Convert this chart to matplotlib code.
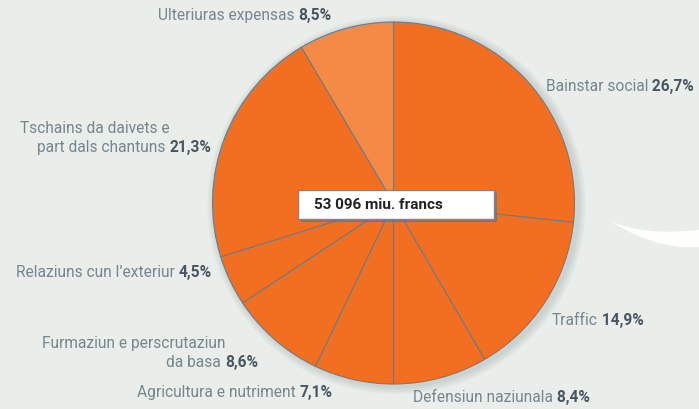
import matplotlib
matplotlib.use("Agg")
import matplotlib.pyplot as plt
from matplotlib.patches import Rectangle, Circle, PathPatch
from matplotlib.path import Path

FONT = "Roboto"

categories = ["Bainstar social", "Traffic", "Defensiun naziunala",
              "Agricultura e nutriment", "Furmaziun e perscrutaziun\nda basa",
              "Relaziuns cun l\u2019exteriur", "Tschains da daivets e\npart dals chantuns",
              "Ulteriuras expensas"]
values = [26.7, 14.9, 8.4, 7.1, 8.6, 4.5, 21.3, 8.5]
pct_labels = ["26,7%", "14,9%", "8,4%", "7,1%", "8,6%", "4,5%", "21,3%", "8,5%"]
total_label = "53 096 miu. francs"

W, H = 699, 409
BG = "#e9eeea"
ORANGE = "#f26f21"
LIGHT = "#f58a47"
EDGE = "#6d7c86"
GRAY = "#76858e"
DARK = "#47565f"

fig = plt.figure(figsize=(W / 100, H / 100), dpi=100)
fig.patch.set_facecolor(BG)
ax = fig.add_axes([0, 0, 1, 1])

def py(y):
    return H - y

cx, cy, r = 393.5, py(203), 181

# white swoosh (decoration)
verts = [(612, py(222)), (650, py(236)), (680, py(231)), (699, py(230)),
         (699, py(247)), (670, py(249)), (640, py(240)), (612, py(222))]
codes = [Path.MOVETO, Path.CURVE4, Path.CURVE4, Path.CURVE4,
         Path.LINETO, Path.CURVE4, Path.CURVE4, Path.CURVE4]
ax.add_patch(PathPatch(Path(verts, codes), facecolor="white", edgecolor="none", zorder=1))

# soft shadow
for i in range(4):
    ax.add_patch(Circle((cx + 3, cy - 2), r + 2 + i * 2, facecolor="#56636b",
                        alpha=0.05, edgecolor="none", zorder=1))

colors = [ORANGE] * 7 + [LIGHT]
ax.pie(values, colors=colors, startangle=90, counterclock=False,
       center=(cx, cy), radius=r, frame=True,
       wedgeprops=dict(edgecolor=EDGE, linewidth=0.8, zorder=2))
ax.set_xlim(0, W)
ax.set_ylim(0, H)
ax.axis("off")

FS = 11.2

def label(text, pct, x, y, ha):
    kw = dict(fontsize=FS, family=FONT, zorder=5)
    if ha == "left":
        t = ax.text(x, py(y), text, ha="left", va="baseline", color=GRAY,
                    linespacing=1.3, **kw)
        ax.annotate(" " + pct, xy=(1, 0), xycoords=t, ha="left", va="bottom",
                    color=DARK, fontweight="bold", **kw)
    else:
        t = ax.text(x, py(y), pct, ha="right", va="baseline", color=DARK,
                    fontweight="bold", **kw)
        ax.annotate(text + " ", xy=(0, 0), xycoords=t, ha="right", va="bottom",
                    color=GRAY, multialignment="right", linespacing=1.3, **kw)

pos = [
    (546, 91, "left"),    # Bainstar
    (552, 325, "left"),   # Traffic
    (413, 402, "left"),   # Defensiun
    (333, 397, "right"),  # Agricultura
    (258, 367, "right"),  # Furmaziun
    (212, 277, "right"),  # Relaziuns
    (211, 152, "right"),  # Tschains
    (331, 20, "right"),   # Ulteriuras
]
for cat, pct, (x, y, ha) in zip(categories, pct_labels, pos):
    label(cat, pct, x, y, ha)

# center box
bx0, bx1, by0, by1 = 298, 494, 190, 219
ax.add_patch(Rectangle((bx0 + 3, py(by1) - 3), bx1 - bx0, by1 - by0,
                       facecolor="#6b6b6b", alpha=0.6, edgecolor="none", zorder=6))
ax.add_patch(Rectangle((bx0, py(by1)), bx1 - bx0, by1 - by0,
                       facecolor="white", edgecolor="#7a8790", linewidth=1.0, zorder=7))
ax.text(314, py(205), total_label, ha="left", va="center", fontsize=11,
        fontweight="bold", family=FONT, color="#222222", zorder=8)

fig.savefig("out.png", dpi=100, facecolor=BG)
